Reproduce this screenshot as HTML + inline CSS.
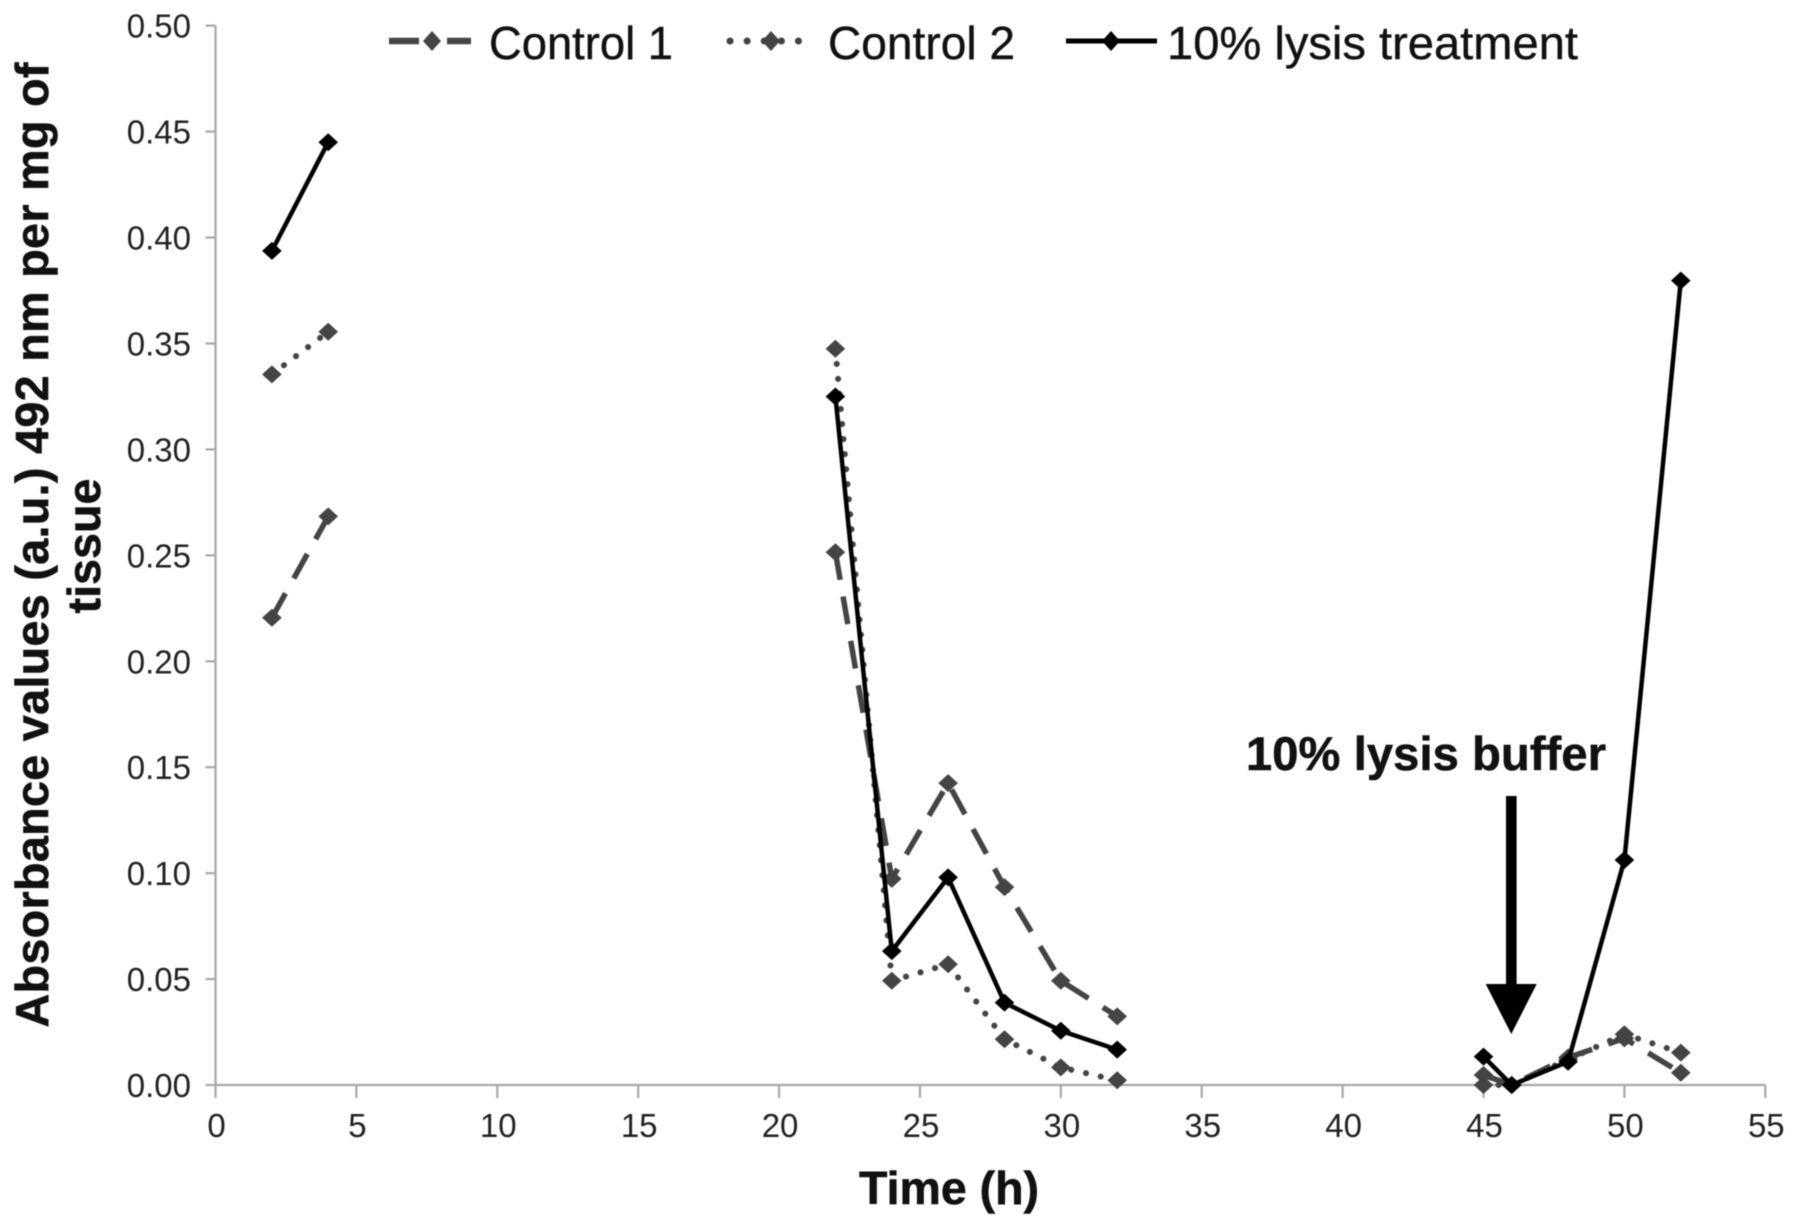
<!DOCTYPE html>
<html lang="en">
<head>
<meta charset="utf-8">
<title>Absorbance values over time</title>
<style>
  html, body { margin: 0; padding: 0; background: #fff; }
  svg { display: block; filter: blur(0.6px); }
  text { font-family: "Liberation Sans", sans-serif; }
</style>
</head>
<body>
<svg id="chart" xmlns="http://www.w3.org/2000/svg" width="1795" height="1226" viewBox="0 0 1795 1226">
  <rect x="0" y="0" width="1795" height="1226" fill="#fff"/>
  <g id="axes"></g>
  <g id="series"></g>

  <text transform="translate(48,545) rotate(-90)" text-anchor="middle" font-size="46.7" font-weight="bold" fill="#111" stroke="#111" stroke-width="0.6" textLength="965" lengthAdjust="spacing">Absorbance values (a.u.) 492 nm per mg of</text>
  <text transform="translate(100,546) rotate(-90)" text-anchor="middle" font-size="46.7" font-weight="bold" fill="#111" stroke="#111" stroke-width="0.6">tissue</text>
  <text x="949" y="1204" text-anchor="middle" font-size="46.5" font-weight="bold" fill="#111" stroke="#111" stroke-width="0.6">Time (h)</text>

  <g>
    <g>
      <line x1="389" y1="41" x2="471" y2="41" stroke="#444" stroke-width="6.5" stroke-dasharray="30 28 24"/>
      <polygon points="432,31 441,41 432,51 423,41" fill="#444"/>
      <text x="489" y="59" font-size="46" fill="#111" stroke="#111" stroke-width="0.4" textLength="184" lengthAdjust="spacingAndGlyphs">Control 1</text>
    </g>
    <g>
      <line x1="730" y1="41" x2="811" y2="41" stroke="#444" stroke-width="7" stroke-linecap="round" stroke-dasharray="0.1 17"/>
      <polygon points="771,31 780,41 771,51 762,41" fill="#444"/>
      <text x="828" y="59" font-size="46" fill="#111" stroke="#111" stroke-width="0.4" textLength="187" lengthAdjust="spacingAndGlyphs">Control 2</text>
    </g>
    <g>
      <line x1="1066" y1="41" x2="1157" y2="41" stroke="#000" stroke-width="5"/>
      <polygon points="1111,31 1120,41 1111,51 1102,41" fill="#000"/>
      <text x="1167" y="59" font-size="46" fill="#111" stroke="#111" stroke-width="0.4" textLength="411" lengthAdjust="spacingAndGlyphs">10% lysis treatment</text>
    </g>
  </g>

  <g>
    <text x="1246" y="770" font-size="47" font-weight="bold" fill="#111" stroke="#111" stroke-width="0.6" textLength="360" lengthAdjust="spacing">10% lysis buffer</text>
    <rect x="1506" y="796" width="10.6" height="190" fill="#000"/>
    <polygon points="1485.7,984 1536.7,984 1511.3,1034" fill="#000"/>
  </g>
</svg>

<script>
const xTickLabels = ["0","5","10","15","20","25","30","35","40","45","50","55"];
const yTickLabels = ["0.00","0.05","0.10","0.15","0.20","0.25","0.30","0.35","0.40","0.45","0.50"];
const times = [2, 4, null, 22, 24, 26, 28, 30, 32, null, 45, 46, 48, 50, 52];
const control1 = [0.2205, 0.2684, null, 0.2515, 0.0973, 0.1425, 0.0934, 0.0492, 0.0324, null, 0.0047, 0.0, 0.013, 0.022, 0.0058];
const control2 = [0.3354, 0.3555, null, 0.3475, 0.0492, 0.057, 0.0216, 0.0083, 0.0022, null, 0.0, 0.0, 0.012, 0.024, 0.0153];
const lysisTreatment = [0.3937, 0.445, null, 0.325, 0.0632, 0.098, 0.0389, 0.0256, 0.0167, null, 0.0134, 0.0, 0.011, 0.1062, 0.3797];

const xMin = 0, xMax = 55, yMin = 0, yMax = 0.5;
const plotLeft = 215.5, plotRight = 1765.3, plotTop = 25.7, plotBottom = 1085;
const SVG_NS = "http://www.w3.org/2000/svg";
function xScale(v) { return plotLeft + (v - xMin) / (xMax - xMin) * (plotRight - plotLeft); }
function yScale(v) { return plotBottom - (v - yMin) / (yMax - yMin) * (plotBottom - plotTop); }
function make(tag, attrs, parent) {
  const el = document.createElementNS(SVG_NS, tag);
  for (const k in attrs) el.setAttribute(k, attrs[k]);
  parent.appendChild(el);
  return el;
}

const axesGroup = document.getElementById("axes");
const AXIS_COLOR = "#a8a8a8";

const xAxisLine = make("line", {x1: plotLeft, y1: plotBottom, x2: plotRight, y2: plotBottom, stroke: AXIS_COLOR, "stroke-width": 2.2}, axesGroup);


const yAxisLine = make("line", {x1: plotLeft, y1: plotTop, x2: plotLeft, y2: plotBottom, stroke: AXIS_COLOR, "stroke-width": 2.2}, axesGroup);



xTickLabels.forEach(function (label) {
  const x = xScale(parseFloat(label));
  const tick = make("line", {x1: x, y1: plotBottom, x2: x, y2: plotBottom + 13, stroke: AXIS_COLOR, "stroke-width": 2.2}, axesGroup);
  
  
  const t = make("text", {x: x + 1, y: plotBottom + 52, "text-anchor": "middle", "font-size": 33, fill: "#222"}, axesGroup);
  
  
  t.textContent = label;
});

yTickLabels.forEach(function (label) {
  const y = yScale(parseFloat(label));
  const tick = make("line", {x1: plotLeft - 10, y1: y, x2: plotLeft, y2: y, stroke: AXIS_COLOR, "stroke-width": 2.2}, axesGroup);
  
  
  const t = make("text", {x: 191, y: y + 12, "text-anchor": "end", "font-size": 33, fill: "#222"}, axesGroup);
  
  
  t.textContent = label;
});

function drawSeries(values, name, color, lineAttrs) {
  const group = document.getElementById("series");
  let d = "", pen = false;
  values.forEach(function (v, i) {
    if (v === null || times[i] === null) { pen = false; return; }
    d += (pen ? "L" : "M") + xScale(times[i]).toFixed(1) + " " + yScale(v).toFixed(1);
    pen = true;
  });
  const attrs = Object.assign({d: d, fill: "none", stroke: color}, lineAttrs);
  const path = make("path", attrs, group);
  
  
  values.forEach(function (v, i) {
    if (v === null || times[i] === null) return;
    const cx = xScale(times[i]), cy = yScale(v), a = 9.8, b = 9;
    const pts = [cx, cy - b, cx + a, cy, cx, cy + b, cx - a, cy].map(function (n) { return n.toFixed(1); });
    const marker = make("polygon", {points: pts.join(" "), fill: color}, group);
    
    
  });
}

drawSeries(control1, "control-1", "#444", {"stroke-width": 5.5, "stroke-dasharray": "28 17"});
drawSeries(control2, "control-2", "#444", {"stroke-width": 6, "stroke-linecap": "round", "stroke-dasharray": "0.1 15"});
drawSeries(lysisTreatment, "lysis-treatment", "#000", {"stroke-width": 4.5, "stroke-linejoin": "round"});
</script>
</body>
</html>
